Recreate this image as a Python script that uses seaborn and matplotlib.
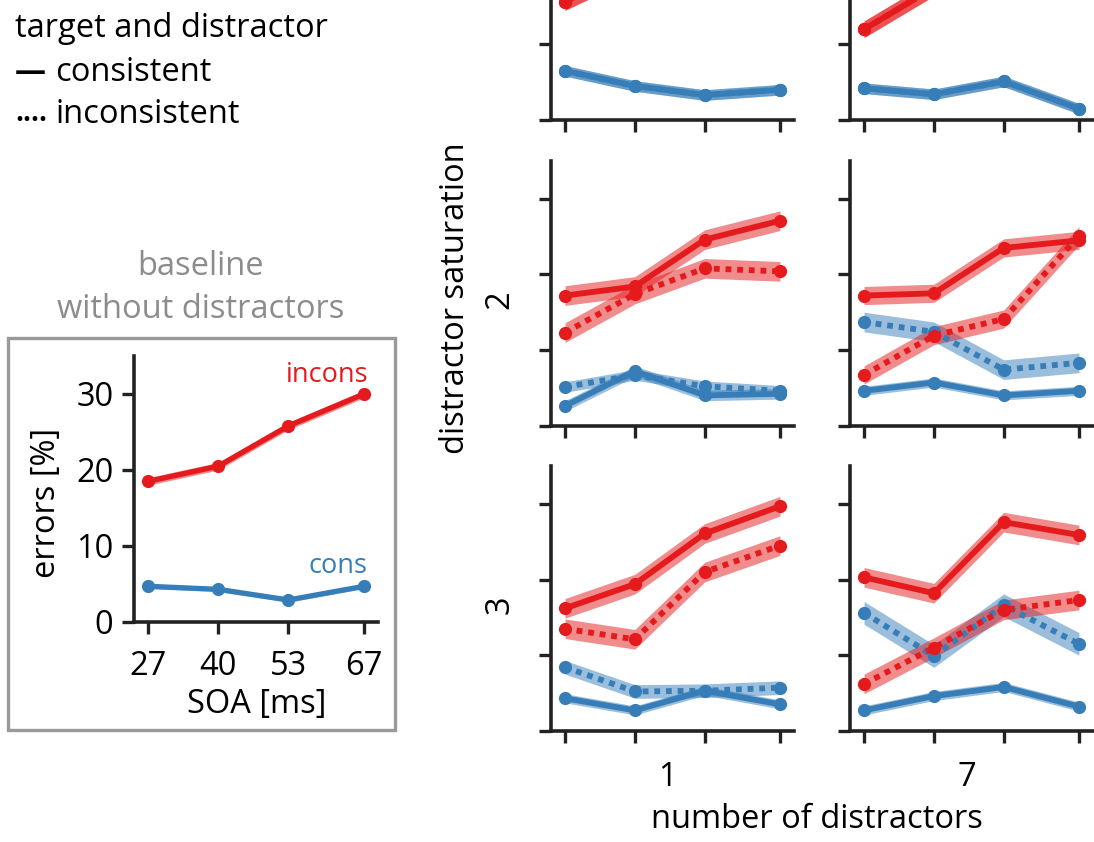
import numpy as np
import pandas as pd
import matplotlib
matplotlib.use("Agg")
import matplotlib.pyplot as plt
import seaborn as sns
from matplotlib.patches import Rectangle

# ---------------- data ----------------
soa = [27, 40, 53, 67]
soa_labels = ["27", "40", "53", "67"]

# baseline without distractors
base_incons = [18.5, 20.5, 25.8, 30.0]
base_cons = [4.7, 4.3, 2.9, 4.7]
base_band_incons = 0.5
base_band_cons = 0.3

saturations = [1, 2, 3]
n_distractors = [1, 7]

# errors [%] per panel: (distractor saturation, number of distractors)
# incons/cons = colour (red/blue); consistent/inconsistent = target & distractor
s1_n1_incons_consistent = [15.6, 20.0, 24.0, 27.0]
s1_n1_incons_inconsistent = [15.6, 20.0, 24.0, 27.0]
s1_n1_cons_consistent = [6.5, 4.5, 3.3, 4.0]
s1_n1_cons_inconsistent = [6.5, 4.5, 3.3, 4.0]

s1_n7_incons_consistent = [12.0, 17.5, 22.0, 24.0]
s1_n7_incons_inconsistent = [12.0, 17.5, 22.0, 24.0]
s1_n7_cons_consistent = [4.2, 3.4, 5.1, 1.5]
s1_n7_cons_inconsistent = [4.2, 3.4, 5.1, 1.5]

s2_n1_incons_consistent = [17.2, 18.4, 24.6, 27.1]
s2_n1_incons_inconsistent = [12.3, 17.4, 20.8, 20.4]
s2_n1_cons_consistent = [2.6, 7.2, 4.0, 4.2]
s2_n1_cons_inconsistent = [5.1, 6.7, 5.2, 4.6]

s2_n7_incons_consistent = [17.2, 17.5, 23.5, 24.5]
s2_n7_incons_inconsistent = [6.7, 11.9, 14.1, 25.1]
s2_n7_cons_consistent = [4.6, 5.7, 4.0, 4.6]
s2_n7_cons_inconsistent = [13.7, 12.4, 7.4, 8.3]

s3_n1_incons_consistent = [16.2, 19.4, 26.1, 29.7]
s3_n1_incons_inconsistent = [13.5, 12.1, 21.0, 24.5]
s3_n1_cons_consistent = [4.3, 2.7, 5.3, 3.5]
s3_n1_cons_inconsistent = [8.4, 5.2, 5.3, 5.7]

s3_n7_incons_consistent = [20.3, 18.2, 27.6, 25.9]
s3_n7_incons_inconsistent = [6.2, 11.0, 16.0, 17.3]
s3_n7_cons_consistent = [2.7, 4.6, 5.8, 3.2]
s3_n7_cons_inconsistent = [15.6, 9.9, 16.6, 11.5]

# half-width of shaded bands per series
# order: incons-consistent, incons-inconsistent, cons-consistent, cons-inconsistent
s1_n1_band = [1.1, 1.1, 0.7, 0.7]
s1_n7_band = [1.1, 1.1, 0.7, 0.7]
s2_n1_band = [1.3, 1.3, 0.7, 0.7]
s2_n7_band = [1.2, 1.2, 0.6, 1.3]
s3_n1_band = [1.3, 1.3, 0.6, 0.9]
s3_n7_band = [1.3, 1.3, 0.6, 1.5]

panel_values = {
    (1, 1): [s1_n1_incons_consistent, s1_n1_incons_inconsistent, s1_n1_cons_consistent, s1_n1_cons_inconsistent, s1_n1_band],
    (1, 7): [s1_n7_incons_consistent, s1_n7_incons_inconsistent, s1_n7_cons_consistent, s1_n7_cons_inconsistent, s1_n7_band],
    (2, 1): [s2_n1_incons_consistent, s2_n1_incons_inconsistent, s2_n1_cons_consistent, s2_n1_cons_inconsistent, s2_n1_band],
    (2, 7): [s2_n7_incons_consistent, s2_n7_incons_inconsistent, s2_n7_cons_consistent, s2_n7_cons_inconsistent, s2_n7_band],
    (3, 1): [s3_n1_incons_consistent, s3_n1_incons_inconsistent, s3_n1_cons_consistent, s3_n1_cons_inconsistent, s3_n1_band],
    (3, 7): [s3_n7_incons_consistent, s3_n7_incons_inconsistent, s3_n7_cons_consistent, s3_n7_cons_inconsistent, s3_n7_band],
}
series_keys = [("incons", "consistent"), ("incons", "inconsistent"),
               ("cons", "consistent"), ("cons", "inconsistent")]

records = []
for (sat, n), vals in panel_values.items():
    bands = vals[4]
    for (prime, td), series, hw in zip(series_keys, vals[:4], bands):
        for s, v in zip(soa, series):
            records.append(dict(sat=sat, n=n, prime=prime, td=td, soa=s,
                                err=v, lo=v - hw, hi=v + hw))
df = pd.DataFrame(records)

base_records = []
for s, v in zip(soa, base_incons):
    base_records.append(dict(prime="incons", td="consistent", soa=s, err=v,
                             lo=v - base_band_incons, hi=v + base_band_incons))
for s, v in zip(soa, base_cons):
    base_records.append(dict(prime="cons", td="consistent", soa=s, err=v,
                             lo=v - base_band_cons, hi=v + base_band_cons))
base_df = pd.DataFrame(base_records)

# ---------------- style ----------------
sns.set_theme(style="ticks")
plt.rcParams["font.family"] = ["Open Sans", "DejaVu Sans"]
plt.rcParams["text.color"] = "black"
FS = 23.5
FS_SMALL = 19.5
RED = "#e41a1c"
BLUE = "#377eb8"
GREY = "#999999"
INK = "#222222"
palette = {"cons": BLUE, "incons": RED}

W, H = 1094, 842
fig = plt.figure(figsize=(W / 100, H / 100), dpi=100)


def axes_px(x0, x1, ytop, ybot):
    return fig.add_axes([x0 / W, 1 - ybot / H, (x1 - x0) / W, (ybot - ytop) / H])


def style_axes(ax, labels=True):
    sns.despine(ax=ax)
    for sp in ("left", "bottom"):
        ax.spines[sp].set_linewidth(2.6)
        ax.spines[sp].set_color(INK)
    ax.set_xlim(24.33, 69.67)
    ax.set_ylim(0, 35)
    ax.set_xticks(soa)
    ax.set_yticks([0, 10, 20, 30])
    ax.tick_params(axis="both", length=8.5, width=2.4, color=INK,
                   labelsize=FS, labelcolor="black")
    ax.tick_params(axis="x", pad=12)
    ax.tick_params(axis="y", pad=6)
    if labels:
        ax.set_xticklabels(soa_labels)
    else:
        ax.set_xticklabels([])
        ax.set_yticklabels([])
    ax.set_xlabel("")
    ax.set_ylabel("")
    ax.patch.set_alpha(0)


def draw(ax, data, lw=4.2, ms=9.5):
    for (prime, td), g in data.groupby(["prime", "td"]):
        ax.fill_between(g["soa"], g["lo"], g["hi"], color=palette[prime],
                        alpha=0.5, lw=0, zorder=1)
    sns.lineplot(data=data, x="soa", y="err", hue="prime", style="td",
                 hue_order=["cons", "incons"], palette=palette,
                 style_order=["inconsistent", "consistent"],
                 dashes={"consistent": "", "inconsistent": (1, 1)},
                 markers={"consistent": "o", "inconsistent": "o"},
                 markersize=ms, markeredgewidth=0, linewidth=lw,
                 errorbar=None, legend=False, ax=ax, zorder=3)


# ---------------- right grid ----------------
col_x0 = [550.7, 849.7]
col_w = 243.6
row_zero = [120.0, 425.6, 730.8]
row_h = 35 * 7.56
for i, sat in enumerate(saturations):
    for j, n in enumerate(n_distractors):
        ax = axes_px(col_x0[j], col_x0[j] + col_w, row_zero[i] - row_h, row_zero[i])
        draw(ax, df[(df.sat == sat) & (df.n == n)])
        style_axes(ax, labels=False)

for i, sat in enumerate(saturations):
    yc = row_zero[i] - row_h / 2
    if yc > 20:  # the first row's label lies above the visible area
        fig.text(500 / W, 1 - (yc + 6) / H, str(sat), rotation=90, ha="center",
                 va="center", fontsize=FS)
for j, n in enumerate(n_distractors):
    fig.text((col_x0[j] + col_w / 2 - 5) / W, 1 - 778 / H, str(n),
             ha="center", va="center", fontsize=FS)
fig.text(817 / W, 1 - 820 / H, "number of distractors", ha="center",
         va="center", fontsize=FS)
fig.text(456 / W, 1 - 298 / H, "distractor saturation", rotation=90,
         ha="center", va="center", fontsize=FS)

# ---------------- baseline ----------------
bax = axes_px(133.6, 378.4, 356, 622)
draw(bax, base_df, lw=3.8, ms=9.5)
style_axes(bax, labels=True)
fig.text(368 / W, 1 - 382 / H, "incons", color=RED, ha="right",
         va="baseline", fontsize=FS_SMALL)
fig.text(368 / W, 1 - 573 / H, "cons", color=BLUE, ha="right",
         va="baseline", fontsize=FS_SMALL)
fig.text(47 / W, 1 - 503 / H, "errors [%]", rotation=90, ha="center",
         va="center", fontsize=FS)
fig.text(257 / W, 1 - 713 / H, "SOA [ms]", ha="center", va="baseline",
         fontsize=FS)
fig.text(201 / W, 1 - 275 / H, "baseline", ha="center", va="baseline",
         fontsize=FS, color="#8c8c8c")
fig.text(201 / W, 1 - 318 / H, "without distractors", ha="center",
         va="baseline", fontsize=FS, color="#8c8c8c")
fig.patches.append(Rectangle((8 / W, 1 - 730 / H), 387 / W, 392 / H,
                             transform=fig.transFigure, fill=False,
                             edgecolor=GREY, linewidth=2.4))

# ---------------- legend text ----------------
fig.text(15 / W, 1 - 37 / H, "target and distractor", ha="left",
         va="baseline", fontsize=FS)
fig.text(15 / W, 1 - 81 / H, "\u2014", ha="left", va="baseline",
         fontsize=FS * 0.95, fontweight="bold")
fig.text(55 / W, 1 - 81 / H, "consistent", ha="left", va="baseline",
         fontsize=FS)
fig.text(15 / W, 1 - 121 / H, "....", ha="left", va="baseline",
         fontsize=FS * 0.85, fontweight="bold")
fig.text(55 / W, 1 - 123 / H, "inconsistent", ha="left", va="baseline",
         fontsize=FS)

fig.savefig("out.png", dpi=100)
